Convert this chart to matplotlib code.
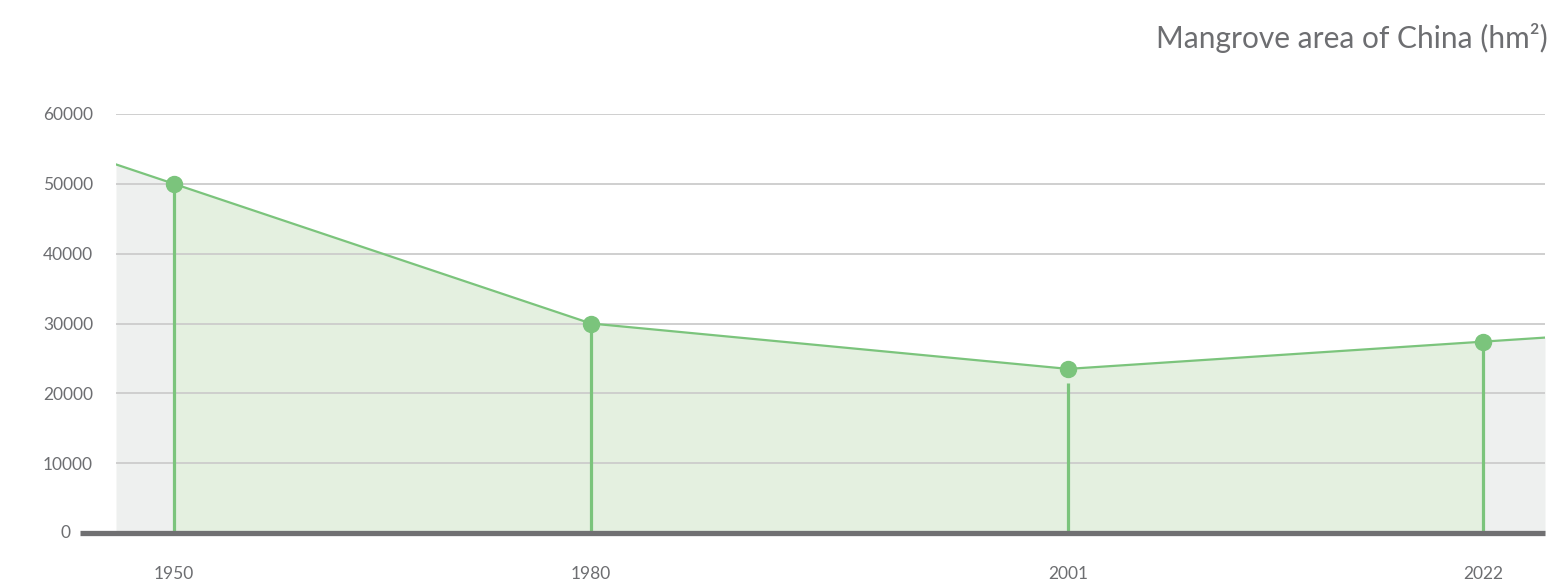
import numpy as np
import matplotlib.pyplot as plt
from matplotlib.lines import Line2D

years = ['1950', '1980', '2001', '2022']
area = [50000, 30000, 23500, 27400]
stem_top = [50000, 30000, 21500, 27400]
xpos = [58, 475, 952, 1367]     # uneven spacing as in the original layout
xmin, xmax = 0, 1429
yticks = [0, 10000, 20000, 30000, 40000, 50000, 60000]

green = '#7bc47c'
fill_green = '#e4f0e0'
gray_bg = '#eef0ef'
text_gray = '#6d6e71'

plt.rcParams['font.family'] = ['Lato', 'DejaVu Sans']

fig = plt.figure(figsize=(15.57, 5.82), dpi=100)
ax = fig.add_axes([116 / 1557, 1 - 533 / 582, (1545 - 116) / 1557, (533 - 114) / 582])

# extend the line to the axes edges
left_y = area[0] + (area[0] - area[1]) / (xpos[1] - xpos[0]) * (xpos[0] - xmin)
right_y = area[-1] + (area[-1] - area[-2]) / (xpos[-1] - xpos[-2]) * (xmax - xpos[-1])
xs = [xmin] + xpos + [xmax]
ys = [left_y] + area + [right_y]

ax.fill_between(xs, ys, 0, color=gray_bg, lw=0, zorder=1)
ax.fill_between(xpos, area, 0, color=fill_green, lw=0, zorder=2)

for t in yticks[1:]:
    ax.axhline(t, color='#cccccc', lw=1.3, zorder=3)

ax.plot(xs, ys, color=green, lw=1.6, zorder=4)
ax.vlines(xpos, 0, stem_top, color=green, lw=2.3, zorder=4)
ax.plot(xpos, area, 'o', color=green, ms=11.5, zorder=5)

ax.set_xlim(xmin, xmax)
ax.set_ylim(0, 60000)
for s in ax.spines.values():
    s.set_visible(False)
ax.patch.set_alpha(0)
ax.set_yticks(yticks)
ax.set_yticklabels([''] + [str(t) for t in yticks[1:]])
ax.set_xticks(xpos)
ax.set_xticklabels(years)
ax.tick_params(length=0, labelsize=12.5, colors=text_gray)
ax.tick_params(axis='y', pad=16.5)
ax.tick_params(axis='x', pad=24)

# the zero label sits left of the baseline's start
ax.annotate(str(yticks[0]), xy=(0, yticks[0]), xycoords=('axes fraction', 'data'),
            xytext=(-32.5, 0), textcoords='offset points', ha='right', va='center',
            fontsize=12.5, color=text_gray, annotation_clip=False)

# thick baseline reaching past the axis
fig.add_artist(Line2D([80 / 1557, 1545 / 1557], [1 - 533 / 582] * 2,
                      color='#707072', lw=3.8, solid_capstyle='butt', zorder=6))

fig.text(1548 / 1557, 1 - 38 / 582, 'Mangrove area of China (hm\u00b2)',
         ha='right', va='center', fontsize=21.5, color=text_gray)

fig.savefig('out.png', dpi=100)
